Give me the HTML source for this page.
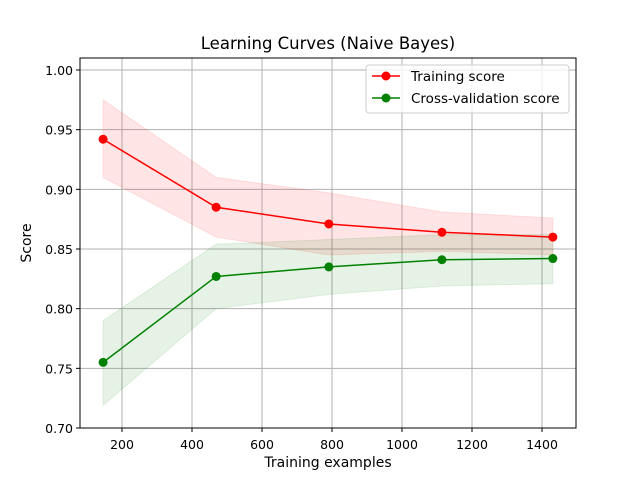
<!DOCTYPE html>
<html><head><meta charset="utf-8"><style>
body{margin:0;background:#fff;font-family:"DejaVu Sans","Liberation Sans",sans-serif}
svg text{font-family:"DejaVu Sans","Liberation Sans",sans-serif}
</style></head><body>
<svg id="chart" width="640" height="480">
<rect width="640" height="480" fill="#fff"/>
<g id="grid"></g><g id="bands"></g><g id="lines"></g><g id="axes"></g>
</svg>
<script>
const xs=[146,469,791,1114,1431];
const trainMean=[0.942,0.885,0.871,0.864,0.860];
const trainUpper=[0.975,0.910,0.897,0.881,0.876];
const trainLower=[0.910,0.860,0.845,0.848,0.845];
const cvMean=[0.755,0.827,0.835,0.841,0.842];
const cvUpper=[0.790,0.854,0.858,0.862,0.862];
const cvLower=[0.719,0.800,0.812,0.819,0.821];
const xTicks=[200,400,600,800,1000,1200,1400];
const yTicks=[0.70,0.75,0.80,0.85,0.90,0.95,1.00];
const L=80,R=576,T=58,B=428;
const X=v=>52+v*0.35;
const Y=v=>428-(v-0.70)*1193.3;
const NS="http://www.w3.org/2000/svg";
function mk(tag,attrs,parent){const e=document.createElementNS(NS,tag);for(const k in attrs)e.setAttribute(k,attrs[k]);document.getElementById(parent).appendChild(e);return e;}
xTicks.forEach(t=>{
 const g=mk('line',{x1:X(t),x2:X(t),y1:T,y2:B,stroke:'#b0b0b0','stroke-width':1},'grid');
 
 mk('line',{x1:X(t),x2:X(t),y1:B,y2:B+4,stroke:'#000'},'axes');
 const tx=mk('text',{x:X(t),y:B+21,'text-anchor':'middle','font-size':12.5},'axes');tx.textContent=t;
 
});
yTicks.forEach(t=>{
 const g=mk('line',{x1:L,x2:R,y1:Y(t),y2:Y(t),stroke:'#b0b0b0','stroke-width':1},'grid');
 
 mk('line',{x1:L-4,x2:L,y1:Y(t),y2:Y(t),stroke:'#000'},'axes');
 const tx=mk('text',{x:L-7,y:Y(t)+5,'text-anchor':'end','font-size':12.5},'axes');tx.textContent=t.toFixed(2);
 
});
function band(up,lo,col,name){
 let d='M'+xs.map((x,i)=>X(x)+','+Y(up[i])).join('L');
 d+='L'+xs.map((x,i)=>X(x)+','+Y(lo[i])).reverse().join('L')+'Z';
 const p=mk('path',{d:d,fill:col,'fill-opacity':0.1,stroke:col,'stroke-opacity':0.1},'bands');
 
}
band(trainUpper,trainLower,'#ff0000','training-band');
band(cvUpper,cvLower,'#008000','cv-band');
function series(m,col,name){
 const p=mk('polyline',{points:xs.map((x,i)=>X(x)+','+Y(m[i])).join(' '),fill:'none',stroke:col,'stroke-width':1.5},'lines');
 
 xs.forEach((x,i)=>{const c=mk('circle',{cx:X(x),cy:Y(m[i]),r:4.5,fill:col},'lines');
  });
}
series(trainMean,'#ff0000','training');
series(cvMean,'#008000','cv');
mk('rect',{x:L,y:T,width:R-L,height:B-T,fill:'none',stroke:'#000','stroke-width':1},'axes');
let t;
t=mk('text',{x:328,y:49,'text-anchor':'middle','font-size':16.5},'axes');t.textContent='Learning Curves (Naive Bayes)';

t=mk('text',{x:328,y:467,'text-anchor':'middle','font-size':14},'axes');t.textContent='Training examples';

t=mk('text',{x:31,y:243,'text-anchor':'middle','font-size':14,transform:'rotate(-90 31 243)'},'axes');t.textContent='Score';

const lg=mk('rect',{x:366,y:65,width:203,height:48,rx:3,fill:'#fff','fill-opacity':0.8,stroke:'#ccc'},'axes');

[['Training score','#ff0000',76],['Cross-validation score','#008000',98]].forEach(([lab,col,y])=>{
 mk('line',{x1:372,x2:400,y1:y,y2:y,stroke:col,'stroke-width':1.5},'axes');
 mk('circle',{cx:386,cy:y,r:4.5,fill:col},'axes');
 const tx=mk('text',{x:411,y:y+5,'font-size':13.5},'axes');tx.textContent=lab;
 
});
</script>
</body></html>
